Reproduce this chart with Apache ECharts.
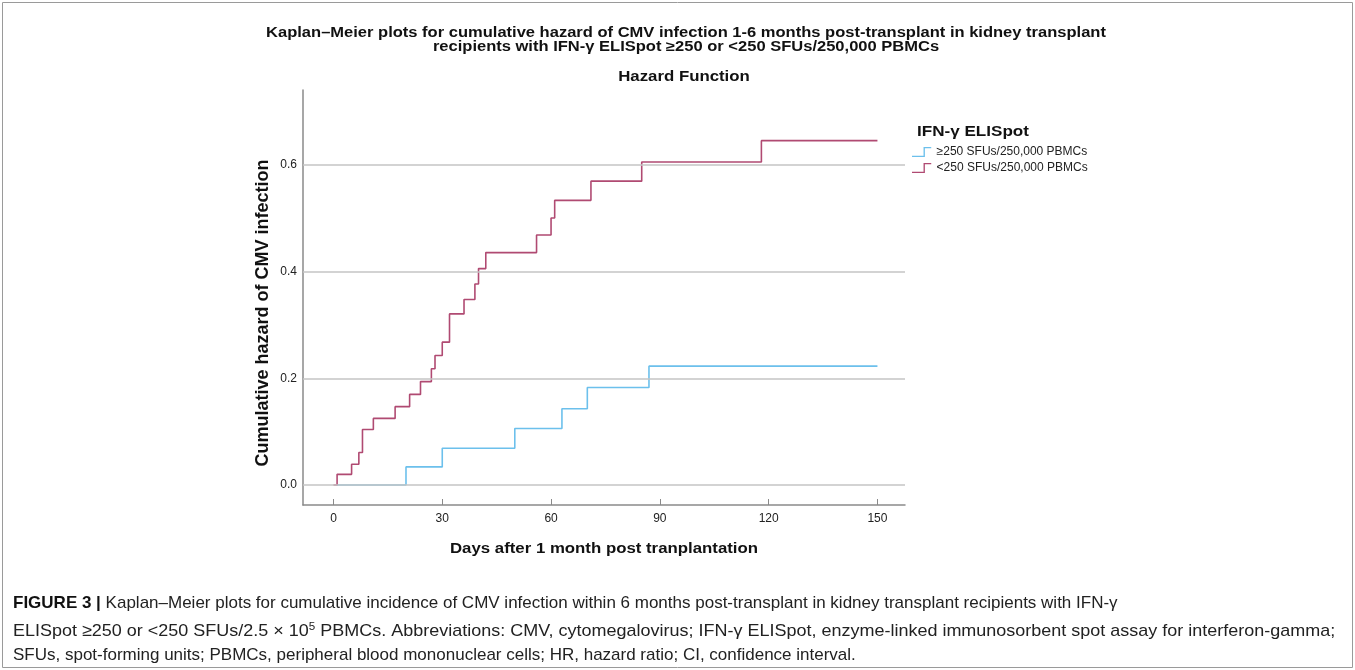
<!DOCTYPE html>
<html>
<head>
<meta charset="utf-8">
<script src="https://cdn.jsdelivr.net/npm/echarts@6/dist/echarts.min.js"></script>
<style>
html,body{margin:0;padding:0;background:#fff;}
#chart{width:1355px;height:670px;}
</style>
</head>
<body>
<div id="chart"></div>
<script>
// ---- data ----
const xTicks = [0, 30, 60, 90, 120, 150];
const yTicks = [0, 0.2, 0.4, 0.6];
const seriesNames = ['\u2265250 SFUs/250,000 PBMCs', '<250 SFUs/250,000 PBMCs'];
const highDays = [1, 20, 30, 50, 63, 70, 87, 150];
const highHazard = [0, 0.034, 0.069, 0.106, 0.143, 0.183, 0.223, 0.223];
const lowDays = [0, 1, 5, 7, 8, 11, 17, 21, 24, 27, 28, 30, 32, 36, 39, 40, 42, 56, 60, 61, 71, 85, 118, 150];
const lowHazard = [0, 0.020, 0.039, 0.061, 0.104, 0.125, 0.147, 0.170, 0.194, 0.218, 0.243, 0.268, 0.321, 0.348, 0.377, 0.406, 0.436, 0.469, 0.501, 0.534, 0.570, 0.606, 0.646, 0.646];

const pairs = (xs, ys) => xs.map((x, i) => [x, ys[i]]);

const FONT = '"Liberation Sans", Arial, sans-serif';
const STEP_ICON = 'path://M0,9 L12,9 L12,0 L20,0 L20,1.4 L13.4,1.4 L13.4,10.4 L0,10.4 Z';
const chart = echarts.init(document.getElementById('chart'), null, {renderer: 'canvas'});

function label(text, x, y, size, sx, extra) {
  return Object.assign({
    type: 'text', x: x, y: y, scaleX: sx, silent: true,
    style: {text: text, font: 'bold ' + size + 'px ' + FONT, fill: '#111',
      textAlign: 'center', textVerticalAlign: 'middle'}
  }, extra || {});
}

const option = {
  backgroundColor: '#fff',
  animation: false,
  textStyle: {fontFamily: FONT},
  legend: {
    orient: 'vertical',
    left: 907, top: 141,
    itemWidth: 20, itemHeight: 10, itemGap: 4,
    textStyle: {fontFamily: FONT, fontSize: 12, color: '#222'},
    data: [
      {name: seriesNames[0], icon: STEP_ICON},
      {name: seriesNames[1], icon: STEP_ICON}
    ]
  },
  grid: {left: 303, right: 450, top: 90, bottom: 165, containLabel: false},
  xAxis: {
    type: 'value', min: -8.4, max: 157.6,
    axisLine: {show: true, onZero: false, lineStyle: {color: '#8a8a8a', width: 1.5}},
    axisTick: {show: true, inside: true, length: 6, lineStyle: {color: '#8a8a8a'}, customValues: xTicks},
    axisLabel: {customValues: xTicks, fontFamily: FONT, fontSize: 12, color: '#222', margin: 8},
    splitLine: {show: false}
  },
  yAxis: {
    type: 'value', min: -0.0375, max: 0.741,
    axisLine: {show: true, onZero: false, lineStyle: {color: '#8a8a8a', width: 1.5}},
    axisTick: {show: false, customValues: yTicks},
    axisLabel: {customValues: yTicks, fontFamily: FONT, fontSize: 12, color: '#222', margin: 6,
      formatter: v => v.toFixed(1)},
    splitLine: {show: false}
  },
  series: [
    {
      type: 'line', name: 'grid', data: [], z: 1, silent: true,
      markLine: {
        silent: true, symbol: 'none', label: {show: false},
        lineStyle: {color: '#c4c4c4', width: 1.5, type: 'solid'},
        data: yTicks.map(v => ({yAxis: v}))
      }
    },
    {
      type: 'line', name: seriesNames[0], step: 'end', z: 3,
      data: pairs(highDays, highHazard),
      showSymbol: false, symbol: 'none',
      color: '#6cc0ec',
      lineStyle: {color: '#6cc0ec', width: 1.6}
    },
    {
      type: 'line', name: seriesNames[1], step: 'end', z: 4,
      data: pairs(lowDays, lowHazard),
      showSymbol: false, symbol: 'none',
      color: '#b04a72',
      lineStyle: {color: '#b04a72', width: 1.6}
    }
  ],
  graphic: [
    {
      type: 'rect', silent: true, z: 0,
      shape: {x: 2.5, y: 2.5, width: 1350, height: 665},
      style: {fill: 'none', stroke: '#9a9a9a', lineWidth: 1}
    },
    label('Kaplan\u2013Meier plots for cumulative hazard of CMV infection 1-6 months post-transplant in kidney transplant', 686, 33, 14, 1.18),
    label('recipients with IFN-\u03b3 ELISpot \u2265250 or <250 SFUs/250,000 PBMCs', 686, 47, 14, 1.18),
    label('Hazard Function', 684, 77, 14, 1.2),
    label('IFN-\u03b3 ELISpot', 973, 132, 14, 1.22),
    label('Days after 1 month post tranplantation', 604, 549, 14, 1.2),
    label('Cumulative hazard of CMV infection', 263, 313, 18, 1, {rotation: Math.PI / 2}),
    {
      type: 'text', left: 13, top: 595,
      style: {
        text: '{b|FIGURE 3 |} Kaplan\u2013Meier plots for cumulative incidence of CMV infection within 6 months post-transplant in kidney transplant recipients with IFN-\u03b3',
        font: '17px ' + FONT, fill: '#222',
        rich: {b: {fontWeight: 'bold', fontSize: 17, fontFamily: FONT, fill: '#111'}}
      }
    },
    {
      type: 'text', x: 13, y: 621, scaleX: 1.058,
      style: {
        text: 'ELISpot \u2265250 or <250 SFUs/2.5 \u00d7 10{sup|5} PBMCs. Abbreviations: CMV, cytomegalovirus; IFN-\u03b3 ELISpot, enzyme-linked immunosorbent spot assay for interferon-gamma;',
        font: '17px ' + FONT, fill: '#222',
        rich: {sup: {fontSize: 11, fontFamily: FONT, verticalAlign: 'top', padding: [0, 0, 9, 0], fill: '#222'}}
      }
    },
    {
      type: 'text', left: 13, top: 647,
      style: {
        text: 'SFUs, spot-forming units; PBMCs, peripheral blood mononuclear cells; HR, hazard ratio; CI, confidence interval.',
        font: '17px ' + FONT, fill: '#222'
      }
    }
  ]
};
chart.setOption(option);
</script>
</body>
</html>
